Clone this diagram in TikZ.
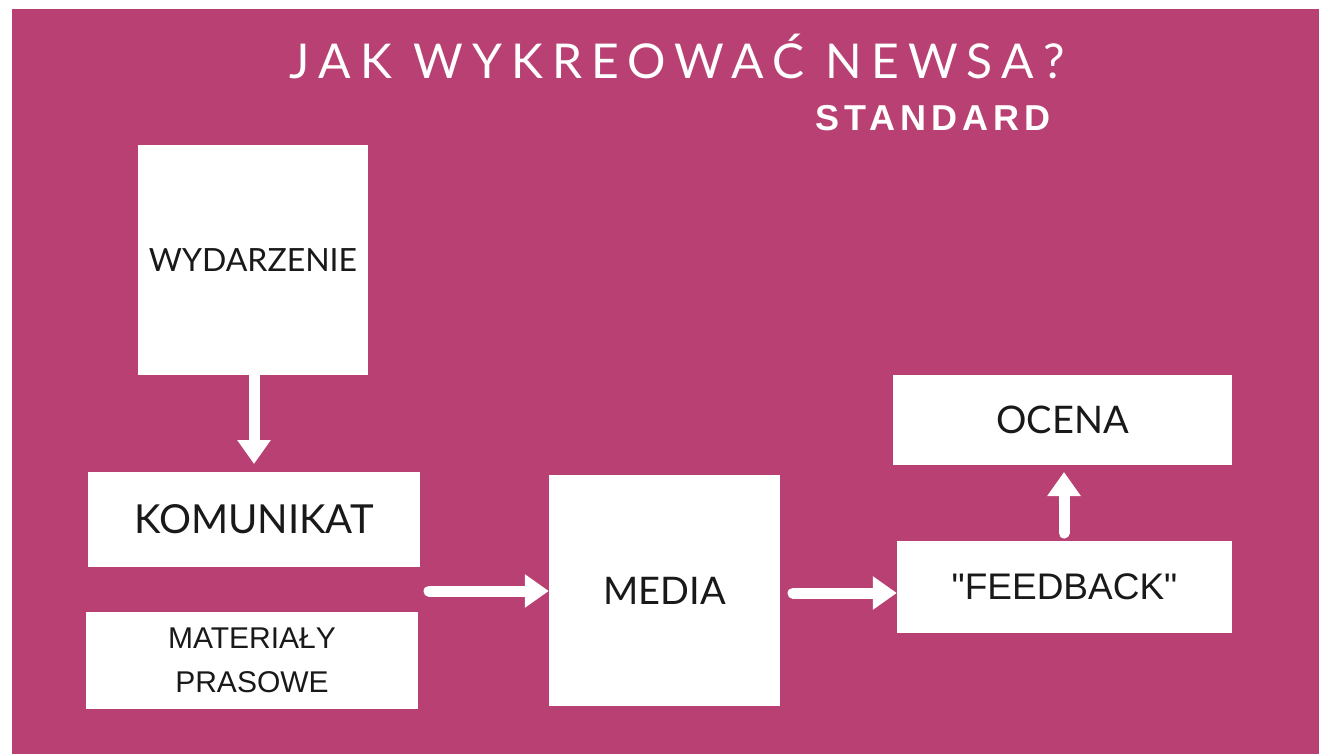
\documentclass[tikz,border=0pt]{standalone}
\usepackage{fontspec}
\setmainfont{Liberation Sans}
\newfontfamily\titlefont[LetterSpace=19]{Lato}
\newfontfamily\latofont{Lato}
\newfontfamily\subfont[LetterSpace=14]{Liberation Sans}
\newfontfamily\feedfont[Ligatures=ResetAll]{Liberation Sans}
\usetikzlibrary{arrows.meta}
\definecolor{bgpink}{RGB}{184,64,114}
\definecolor{txtdark}{RGB}{25,25,25}
\tikzset{
  box/.style={fill=white, draw=none, inner sep=0pt, text=txtdark, align=center},
  flowarrow/.style={draw=white, line width=11pt, line cap=round,
    -{Triangle[width=32pt,length=24pt]}},
}
\begin{document}
\begin{tikzpicture}[x=1pt,y=-1pt]
\useasboundingbox (0,0) rectangle (1319,754);
\fill[white] (0,0) rectangle (1319,754);
\fill[bgpink] (12,9) rectangle (1319,754);
\node[text=white, font=\titlefont\fontsize{48}{54}\selectfont] (title) at (677,56) {JAK WYKREOWAĆ NEWSA?};
\node[text=white, font=\subfont\bfseries\fontsize{36}{40}\selectfont] (sub) at (933,118) {STANDARD};
\node[box, minimum width=230pt, minimum height=230pt, font=\latofont\fontsize{32}{36}\selectfont] (wyd) at (253,260) {WYDARZENIE};
\node[box, minimum width=332pt, minimum height=95pt, font=\latofont\fontsize{40}{44}\selectfont] (kom) at (254,519.5) {KOMUNIKAT};
\node[box, minimum width=332pt, minimum height=97pt, font=\fontsize{30}{44}\selectfont] (mat) at (252,660.5) {MATERIAŁY\\PRASOWE};
\node[box, minimum width=231pt, minimum height=231pt, font=\latofont\fontsize{38}{42}\selectfont] (media) at (664.5,590.5) {MEDIA};
\node[box, minimum width=339pt, minimum height=90pt, font=\latofont\fontsize{38}{42}\selectfont] (ocena) at (1062.5,420) {OCENA};
\node[box, minimum width=335pt, minimum height=92pt, font=\feedfont\fontsize{37}{40}\selectfont] (feed) at (1064.5,587) {"FEEDBACK"};
\coordinate (a1s) at (254,376);
\draw[flowarrow, line cap=butt] (wyd.south -| a1s) -- (254,464);
\draw[flowarrow] (429,591) -- (media.west |- 0,591);
\draw[flowarrow] (793,593) -- (feed.west |- 0,593);
\draw[flowarrow] (1064,533) -- (1064,472);
\end{tikzpicture}
\end{document}
